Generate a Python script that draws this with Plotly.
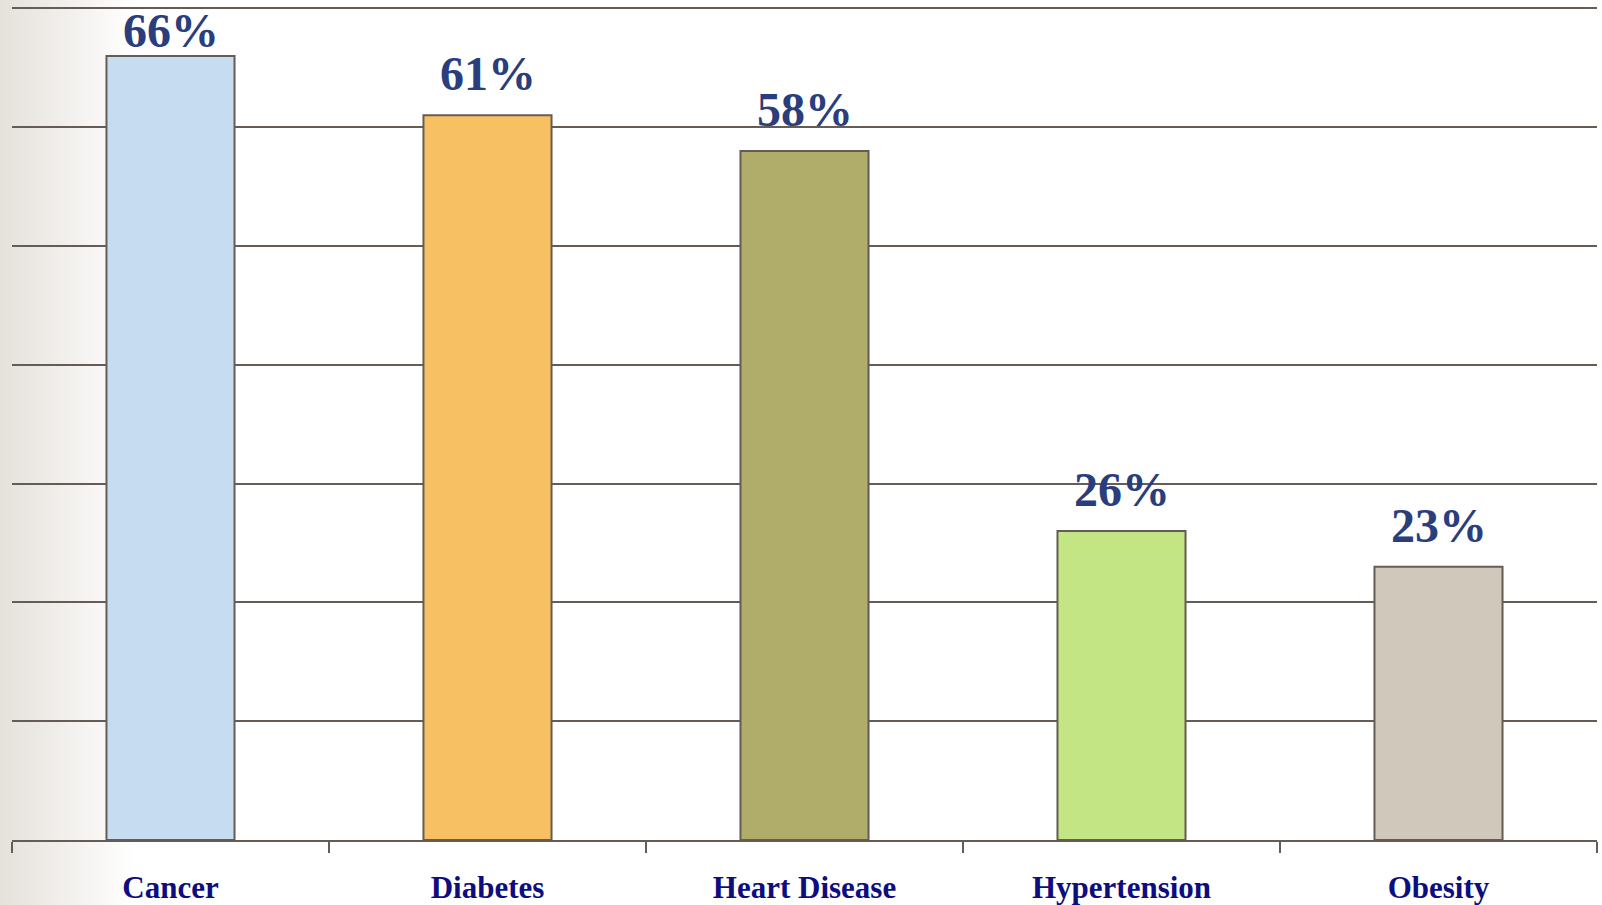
import plotly.graph_objects as go

categories = ["Cancer", "Diabetes", "Heart Disease", "Hypertension", "Obesity"]
values = [66, 61, 58, 26, 23]
value_labels = ["66%", "61%", "58%", "26%", "23%"]
bar_colors = ["#c6dcf0", "#f7c063", "#b0ad6a", "#c3e583", "#cfc8bb"]

W, H = 1602, 905
ML, MR, MT, MB = 12, 5, 6, 65
PW, PH = W - ML - MR, H - MT - MB
YMAX = 70
YTOP = YMAX + 0.2
LINE = "#645c55"

fig = go.Figure()
fig.add_trace(go.Bar(
    x=categories, y=values,
    marker=dict(color=bar_colors, line=dict(color=LINE, width=2)),
    width=0.404, hoverinfo="skip",
))

# left gradient background
shapes = []
n = 45
gw = 135
c0 = (0xe5, 0xe1, 0xdb)
for i in range(n):
    x0p = i * gw / n
    x1p = (i + 1) * gw / n + 0.6
    t = (i + 0.5) / n
    col = tuple(int(round(c0[k] + (255 - c0[k]) * t)) for k in range(3))
    shapes.append(dict(
        type="rect", xref="paper", yref="paper", layer="below",
        x0=(x0p - ML) / PW, x1=(x1p - ML) / PW,
        y0=-MB / PH - 0.01, y1=1 + MT / PH + 0.01,
        fillcolor="rgb(%d,%d,%d)" % col, line=dict(width=0),
    ))

# value labels
ppu = PH / YTOP
annotations = []
for c, v, lab in zip(categories, values, value_labels):
    bartop = MT + PH - v * ppu
    gap = min(24, bartop - 15 - 33)
    annotations.append(dict(
        x=c, y=v, xref="x", yref="y", text=lab, showarrow=False,
        yanchor="bottom", yshift=gap - 11,
        font=dict(family="Liberation Serif", size=48, color="#2a3d7c", weight="bold"),
    ))

fig.update_layout(
    width=W, height=H,
    margin=dict(l=ML, r=MR, t=MT, b=MB, autoexpand=False),
    paper_bgcolor="white", plot_bgcolor="rgba(0,0,0,0)",
    showlegend=False, bargap=0.596,
    shapes=shapes, annotations=annotations,
    xaxis=dict(
        tickson="boundaries", ticks="outside", ticklen=11, tickwidth=2,
        tickcolor=LINE, showline=True, linecolor=LINE, linewidth=2,
        showgrid=False, ticklabelstandoff=19, automargin=False,
        tickfont=dict(family="Liberation Serif", size=31, color="#0d0d80", weight="bold"),
    ),
    yaxis=dict(
        range=[0, YTOP], tick0=0, dtick=10, showgrid=True, gridcolor=LINE, gridwidth=2,
        showticklabels=False, zeroline=False, showline=False, automargin=False,
    ),
)

fig.write_html(
    "out.html",
    config={"displayModeBar": False},
    post_script="document.body.style.margin='0px';document.body.style.overflow='hidden';",
)
